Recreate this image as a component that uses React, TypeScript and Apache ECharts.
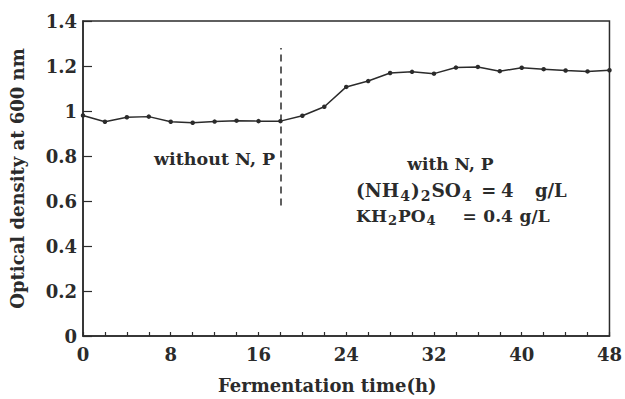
import React, { useEffect, useRef } from 'react';
import * as echarts from 'echarts';

const hours = [0, 2, 4, 6, 8, 10, 12, 14, 16, 18, 20, 22, 24, 26, 28, 30, 32, 34, 36, 38, 40, 42, 44, 46, 48];
const od = [0.98, 0.952, 0.972, 0.975, 0.952, 0.948, 0.953, 0.957, 0.955, 0.955, 0.979, 1.019, 1.107, 1.133, 1.169, 1.174, 1.166, 1.193, 1.196, 1.177, 1.192, 1.186, 1.18, 1.176, 1.181];
const xLabelTicks = [0, 8, 16, 24, 32, 40, 48];
const dividerHour = 18;
const dividerRange = [0.58, 1.28];

const xTitle = 'Fermentation time(h)';
const yTitle = 'Optical density at 600 nm';
const leftNoteText = 'without N, P';
const rightHeadText = 'with N, P';
// formula pieces: [text, isSubscript]
const formula1: [string, boolean][] = [['(NH', false], ['4', true], [')', false], ['2', true], ['SO', false], ['4', true]];
const formula2: [string, boolean][] = [['KH', false], ['2', true], ['PO', false], ['4', true]];
const rowTexts = [
  { pieces: formula1, eq: '=', value: '4', unit: 'g/L' },
  { pieces: formula2, eq: '=', value: '0.4', unit: 'g/L' },
];

// layout (anchors in data coordinates [hour, od])
const leftNoteAt = [12.0, 0.785];
const rightHeadAt = [33.5, 0.765];
const rowLayout = [
  { y: 0.645, main: 18.5, sub: 14, shift: 5, cols: { name: 24.9, eq: 36.3, value: 38.1, unit: 41.2 } },
  { y: 0.535, main: 17, sub: 13, shift: 5, cols: { name: 24.9, eq: 34.6, value: 36.5, unit: 39.8 } },
];

const FONT = 'DejaVu Serif';
const INK = '#2b2b2b';

function measure(text: string, size: number): number {
  const c = document.createElement('canvas').getContext('2d');
  if (!c) return text.length * size * 0.6;
  c.font = `bold ${size}px "${FONT}"`;
  return c.measureText(text).width;
}

export default function App() {
  const ref = useRef<HTMLDivElement>(null);
  useEffect(() => {
    if (!ref.current) return;
    const chart = echarts.init(ref.current, null, { renderer: 'svg' });
    chart.setOption({
      animation: false,
      backgroundColor: '#fff',
      grid: { left: 79, right: 13, top: 21, bottom: 62, show: true, borderColor: INK, borderWidth: 1.5, backgroundColor: 'transparent' },
      xAxis: {
        type: 'value', min: 0, max: 48, interval: 2,
        name: xTitle, nameLocation: 'middle', nameGap: 40,
        nameTextStyle: { fontFamily: FONT, fontWeight: 'bold', fontSize: 18, color: INK, padding: [0, 38, 0, 0] },
        axisLine: { show: true, lineStyle: { color: INK, width: 1.5 } },
        axisTick: { show: true, inside: true, length: 4, lineStyle: { color: INK, width: 1.2 } },
        splitLine: { show: false },
        axisLabel: {
          margin: 9, fontFamily: FONT, fontWeight: 'bold', fontSize: 18, color: INK,
          formatter: (v: number) => (xLabelTicks.includes(v) ? String(v) : ''),
        },
      },
      yAxis: {
        type: 'value', min: 0, max: 1.4, interval: 0.2,
        name: yTitle, nameLocation: 'middle', nameGap: 57, nameRotate: 90,
        nameTextStyle: { fontFamily: FONT, fontWeight: 'bold', fontSize: 18, color: INK },
        axisLine: { show: true, lineStyle: { color: INK, width: 1.5 } },
        axisTick: { show: true, inside: true, length: 9, lineStyle: { color: INK, width: 1.2 } },
        splitLine: { show: false },
        axisLabel: {
          margin: 6, fontFamily: FONT, fontWeight: 'bold', fontSize: 18, color: INK,
          formatter: (v: number) => String(+v.toFixed(1)),
        },
      },
      series: [
        {
          type: 'line',
          data: hours.map((h, i) => [h, od[i]]),
          symbol: 'circle', symbolSize: 4.5,
          lineStyle: { color: INK, width: 1.5 },
          itemStyle: { color: INK },
          markLine: {
            silent: true, symbol: 'none', label: { show: false },
            lineStyle: { color: INK, type: [7, 5], width: 1.5 },
            data: [[{ coord: [dividerHour, dividerRange[0]] }, { coord: [dividerHour, dividerRange[1]] }]],
          },
        },
      ],
    });

    const px = (p: number[]) => chart.convertToPixel({ gridIndex: 0 }, p) as number[];
    const base = { fontFamily: FONT, fontWeight: 'bold', fontSize: 17, fill: INK };
    const els: any[] = [];
    const lp = px(leftNoteAt);
    els.push({ type: 'text', x: lp[0], y: lp[1], style: { ...base, fontSize: 17.5, text: leftNoteText, align: 'center', verticalAlign: 'middle' } });
    const rp = px(rightHeadAt);
    els.push({ type: 'text', x: rp[0], y: rp[1], style: { ...base, text: rightHeadText, align: 'center', verticalAlign: 'middle' } });
    rowTexts.forEach((r, i) => {
      const L = rowLayout[i];
      const start = px([L.cols.name, L.y]);
      let cx = start[0];
      r.pieces.forEach(([t, sub]) => {
        const size = sub ? L.sub : L.main;
        els.push({
          type: 'text', x: cx, y: start[1] + (sub ? L.shift : 0),
          style: { ...base, fontSize: size, text: t, align: 'left', verticalAlign: 'middle' },
        });
        cx += measure(t, size) + 1;
      });
      (['eq', 'value', 'unit'] as const).forEach((k) => {
        const p = px([L.cols[k], L.y]);
        els.push({
          type: 'text', x: p[0], y: p[1],
          style: { ...base, fontSize: i === 0 ? 18 : 17, text: (r as any)[k], align: 'left', verticalAlign: 'middle' },
        });
      });
    });
    chart.setOption({ graphic: { elements: els } });
    return () => chart.dispose();
  }, []);
  return <div ref={ref} style={{ width: 625, height: 399, position: 'absolute', left: 0, top: 0 }} />;
}
